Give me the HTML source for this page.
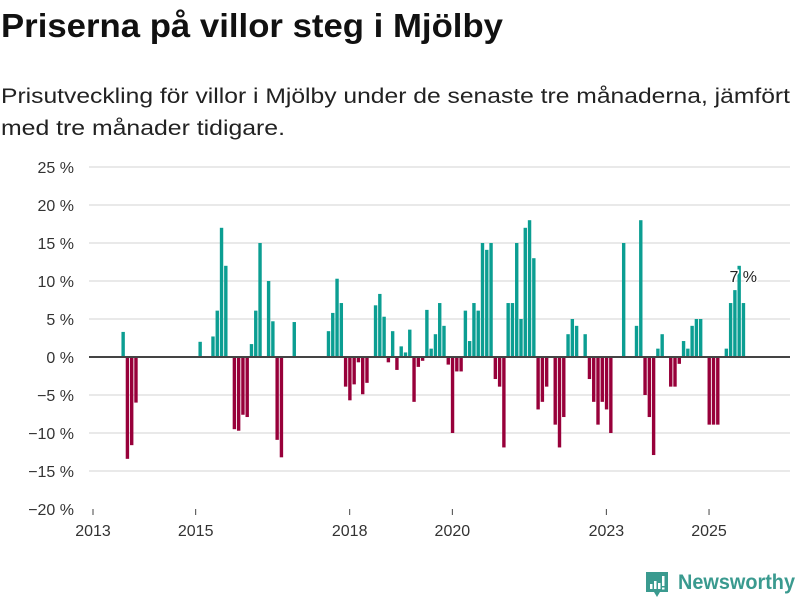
<!DOCTYPE html>
<html><head><meta charset="utf-8"><style>
html,body{margin:0;padding:0;background:#fff;}
svg{display:block;font-family:"Liberation Sans",sans-serif;}
</style></head><body>
<svg id="chart" width="800" height="600" viewBox="0 0 800 600">
<text x="1" y="37" font-size="33" font-weight="bold" fill="#111" textLength="502" lengthAdjust="spacingAndGlyphs">Priserna på villor steg i Mjölby</text>
<text x="1" y="103" font-size="21" fill="#222" textLength="789" lengthAdjust="spacingAndGlyphs">Prisutveckling för villor i Mjölby under de senaste tre månaderna, jämfört</text>
<text x="1" y="135" font-size="21" fill="#222" textLength="284" lengthAdjust="spacingAndGlyphs">med tre månader tidigare.</text>
<g id="grid"></g>
<g id="yticks"></g>
<g id="xticks"></g>
<g id="bars"></g>
<line id="zero" x1="89" x2="790" stroke="#444" stroke-width="2"/>
<g>
<path d="M646 572 h22 v20 h-8 l-3 5 l-3 -5 h-8 z" fill="#3a9a8f"/>
<rect x="650" y="584" width="2.5" height="5" fill="#fff"/>
<rect x="654" y="581" width="2.5" height="8" fill="#fff"/>
<rect x="658" y="583" width="2.5" height="6" fill="#fff"/>
<rect x="662" y="576" width="2.5" height="10" fill="#fff"/>
<rect x="662" y="587.5" width="2.5" height="2" fill="#fff"/>
<text x="678" y="589" font-size="21" font-weight="bold" fill="#3a9a8f" textLength="117" lengthAdjust="spacingAndGlyphs">Newsworthy</text>
</g>
</svg>
<script>
const monthIdx = [7,8,9,10,25,28,29,30,31,33,34,35,36,37,38,39,41,42,43,44,47,
55,56,57,58,59,60,61,62,63,64,66,67,68,69,70,71,72,73,74,75,76,77,78,79,80,81,82,83,84,85,86,
87,88,89,90,91,92,93,94,95,96,97,98,99,100,101,102,103,104,105,106,108,109,110,111,112,113,115,
116,117,118,119,120,121,124,127,128,129,130,131,132,133,135,136,137,138,139,140,141,142,144,145,146,
148,149,150,151,152];
const values = [3.3,-13.4,-11.6,-6.0,2.0,2.7,6.1,17.0,12.0,-9.5,-9.7,-7.6,-7.9,1.7,6.1,15.0,10.0,4.7,-10.9,-13.2,4.6,
3.4,5.8,10.3,7.1,-3.9,-5.7,-3.6,-0.7,-4.9,-3.4,6.8,8.3,5.3,-0.7,3.4,-1.7,1.4,0.6,3.6,-5.9,-1.3,-0.5,6.2,1.1,3.0,7.1,4.1,-1.0,-10.0,-1.9,-1.9,
6.1,2.1,7.1,6.1,15.0,14.1,15.0,-2.9,-3.9,-11.9,7.1,7.1,15.0,5.0,17.0,18.0,13.0,-6.9,-5.9,-3.9,-8.9,-11.9,-7.9,3.0,5.0,4.1,3.0,
-2.9,-5.9,-8.9,-5.9,-6.9,-10.0,15.0,4.1,18.0,-5.0,-7.9,-12.9,1.1,3.0,-3.9,-3.9,-0.9,2.1,1.1,4.1,5.0,5.0,-8.9,-8.9,-8.9,
1.1,7.1,8.8,12.0,7.1];
const yTicks = [25,20,15,10,5,0,-5,-10,-15,-20];
const yTickLabels = ["25 %","20 %","15 %","10 %","5 %","0 %","\u22125 %","\u221210 %","\u221215 %","\u221220 %"];
const xTickYears = [2013,2015,2018,2020,2023,2025];
const lastLabel = "7 %";

const NS="http://www.w3.org/2000/svg";
function y(v){return 357 - v*7.6;}
function x(m){return 93 + m*4.278;}
function xYear(yr){return x((yr-2013)*12);}
function mk(t,a,p){const e=document.createElementNS(NS,t);for(const k in a)e.setAttribute(k,a[k]);p.appendChild(e);return e;}
document.getElementById('zero').setAttribute('y1',y(0));
document.getElementById('zero').setAttribute('y2',y(0));
const grid=document.getElementById('grid'),yt=document.getElementById('yticks'),xt=document.getElementById('xticks'),bars=document.getElementById('bars');
yTicks.forEach((v,i)=>{
  if(v>-20&&v!==0){const l=mk('line',{x1:89,x2:790,y1:y(v),y2:y(v),stroke:'#e2e2e2','stroke-width':1.5},grid);
  
  }
  const t=mk('text',{x:74,y:y(v)+6,'font-size':16,fill:'#333','text-anchor':'end'},yt);
  t.textContent=yTickLabels[i];
  
  
});
xTickYears.forEach(yr=>{
  const l=mk('line',{x1:xYear(yr),x2:xYear(yr),y1:509,y2:515,stroke:'#444','stroke-width':1},xt);
  
  
  const t=mk('text',{x:xYear(yr),y:536,'font-size':16,fill:'#333','text-anchor':'middle'},xt);
  t.textContent=yr;
  
  
});
monthIdx.forEach((m,i)=>{
  const v=values[i];
  const r=mk('rect',{x:x(m)-1.5,width:3.4,y:Math.min(y(v),y(0)),height:Math.abs(y(v)-y(0)),fill:v>=0?'#0b9e92':'#98003a'},bars);
  
  
});
const lm=monthIdx[monthIdx.length-1];
const lt=mk('text',{x:x(lm),y:y(values[values.length-1])-21,'font-size':16,fill:'#222','text-anchor':'middle',stroke:'#fff','stroke-width':3,'paint-order':'stroke'},bars);
lt.textContent=lastLabel;


</script>
</body></html>
